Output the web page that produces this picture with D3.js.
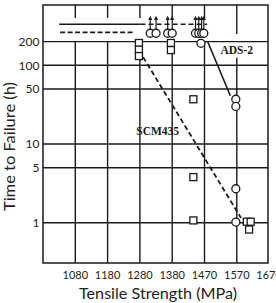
<!DOCTYPE html>
<html>
<head>
<meta charset="utf-8">
<script src="https://cdn.jsdelivr.net/npm/d3@7"></script>
<style>
  body { margin: 0; background: #fff; }
  svg { display: block; }
</style>
</head>
<body>
<svg width="276" height="303"></svg>
<script>
// tick labels
const xTicks = [1080, 1180, 1280, 1380, 1470, 1570, 1670];
const yTicks = [1, 5, 10, 50, 100, 200];

// ADS-2 (circles) - run-out specimens at top + failures
const adsRunout = [1312, 1330, 1366, 1380, 1445, 1454, 1462, 1468];
const adsRunoutHours = 255;
const adsPoints = [[1460, 190], [1567, 37], [1567, 30], [1567, 2.7], [1567, 1.02]];

// SCM435 (squares)
const scmPoints = [
  [1277, 192], [1277, 158], [1277, 131],
  [1376, 192], [1376, 156],
  [1439, 37], [1439, 3.8], [1439, 1.07],
  [1601, 1.03], [1613, 1.03], [1608, 0.82]
];

// trend lines
const adsLine = [[1480, 199], [1550, 41]];
const scmLine = [[1290, 127], [1583, 1.15]];
// run-out (no failure) levels
const adsRunoutSolid = [[1030, 332], [1282, 332]];
const adsRunoutDash = [[1282, 332], [1478, 332]];
const scmRunoutDash = [[1033, 262], [1260, 262]];

const svg = d3.select("svg");
const plotLeft = 43, plotRight = 268, plotTop = 5, plotBottom = 263;
const step = 32.3;

// x is evenly spaced per tick label (the labels are not evenly spaced in MPa)
const xDomain = [980].concat(xTicks);
const x = d3.scaleLinear()
  .domain(xDomain)
  .range(xDomain.map((d, i) => plotLeft + i * step));
const y = d3.scaleLog().domain([0.308, 583]).range([plotBottom, plotTop]);

const ink = "#1a1a1a";

// grid: horizontal lines
const grid = svg.append("g").attr("stroke", ink).attr("stroke-width", 1.4);
grid.selectAll(".h")
  .data(yTicks)
  .join("line")
  .attr("x1", plotLeft).attr("x2", plotRight)
  .attr("y1", d => y(d)).attr("y2", d => y(d));

// vertical lines have a gap at the top where the run-out lines are
const vSegs = [];
xTicks.slice(0, 6).forEach(t => {
  if (t === 1570) {
    vSegs.push([t, 583, 250], [t, 125, 0.308]);
  } else {
    vSegs.push([t, 583, 400], [t, 200, 0.308]);
  }
});
grid.selectAll(".v")
  .data(vSegs)
  .join("line")
  .attr("x1", d => x(d[0])).attr("x2", d => x(d[0]))
  .attr("y1", d => y(d[1])).attr("y2", d => y(d[2]));

// frame
svg.append("rect")
  .attr("x", plotLeft).attr("y", plotTop)
  .attr("width", plotRight - plotLeft).attr("height", plotBottom - plotTop)
  .attr("fill", "none").attr("stroke", ink).attr("stroke-width", 1.5);

const line = d3.line().x(d => x(d[0])).y(d => y(d[1]));

// run-out lines
svg.append("path").attr("d", line(adsRunoutSolid))
  .attr("fill", "none").attr("stroke", ink).attr("stroke-width", 1.6);
svg.append("path").attr("d", line(adsRunoutDash))
  .attr("fill", "none").attr("stroke", ink).attr("stroke-width", 1.6)
  .attr("stroke-dasharray", "5,3");
svg.append("path").attr("d", line(scmRunoutDash))
  .attr("fill", "none").attr("stroke", ink).attr("stroke-width", 1.8)
  .attr("stroke-dasharray", "5,2.5");

// arrows for run-out specimens
svg.append("defs").append("marker")
  .attr("id", "arr")
  .attr("viewBox", "0 0 6 6")
  .attr("refX", 3).attr("refY", 3)
  .attr("markerWidth", 3.5).attr("markerHeight", 3.5)
  .attr("orient", "auto")
  .append("path").attr("d", "M0,0L6,3L0,6Z").attr("fill", ink);

svg.append("g").selectAll("line")
  .data(adsRunout)
  .join("line")
  .attr("x1", d => x(d)).attr("x2", d => x(d))
  .attr("y1", y(adsRunoutHours) - 4).attr("y2", y(400))
  .attr("stroke", ink).attr("stroke-width", 1.2)
  .attr("marker-end", "url(#arr)");

// trend lines
svg.append("path").attr("d", line(adsLine))
  .attr("fill", "none").attr("stroke", ink).attr("stroke-width", 1.6);
svg.append("path").attr("d", line(scmLine))
  .attr("fill", "none").attr("stroke", ink).attr("stroke-width", 1.8)
  .attr("stroke-dasharray", "5,3");

// squares
svg.append("g").selectAll("rect")
  .data(scmPoints)
  .join("rect")
  .attr("x", d => x(d[0]) - 3.5).attr("y", d => y(d[1]) - 3.5)
  .attr("width", 7).attr("height", 7)
  .attr("fill", "#fff").attr("stroke", ink).attr("stroke-width", 1.3);

// circles
const allCircles = adsRunout.map(d => [d, adsRunoutHours]).concat(adsPoints);
svg.append("g").selectAll("circle")
  .data(allCircles)
  .join("circle")
  .attr("cx", d => x(d[0])).attr("cy", d => y(d[1]))
  .attr("r", 4)
  .attr("fill", "#fff").attr("stroke", ink).attr("stroke-width", 1.3);

// series labels
svg.append("text")
  .attr("x", x(1570)).attr("y", y(200) + 12)
  .attr("text-anchor", "middle")
  .attr("font-family", "Liberation Serif").attr("font-weight", "bold")
  .attr("font-size", 11.5).attr("fill", ink)
  .text("ADS-2");
svg.append("text")
  .attr("x", x(1335)).attr("y", y(10) - 9.5)
  .attr("text-anchor", "middle")
  .attr("font-family", "Liberation Serif").attr("font-weight", "bold")
  .attr("font-size", 11.5).attr("fill", ink)
  .text("SCM435");

// tick labels
svg.append("g").selectAll("text")
  .data(xTicks)
  .join("text")
  .attr("x", d => x(d)).attr("y", 278.5)
  .attr("text-anchor", "middle")
  .attr("font-family", "Lato").attr("font-size", 11).attr("fill", "#222")
  .text(d => d);

svg.append("g").selectAll("text")
  .data(yTicks)
  .join("text")
  .attr("x", 39.5).attr("y", d => y(d))
  .attr("dy", "0.36em")
  .attr("text-anchor", "end")
  .attr("font-family", "Lato").attr("font-size", 12).attr("fill", "#222")
  .text(d => d);

// axis titles
svg.append("text")
  .attr("x", 158).attr("y", 298.5)
  .attr("text-anchor", "middle")
  .attr("font-family", "Lato").attr("font-size", 15.5).attr("fill", "#222")
  .attr("textLength", 158).attr("lengthAdjust", "spacingAndGlyphs")
  .text("Tensile Strength (MPa)");

svg.append("text")
  .attr("transform", "translate(15,146.5) rotate(-90)")
  .attr("text-anchor", "middle")
  .attr("font-family", "Lato").attr("font-size", 15.5).attr("fill", "#222")
  .attr("textLength", 129).attr("lengthAdjust", "spacingAndGlyphs")
  .text("Time to Failure (h)");
</script>
</body>
</html>
